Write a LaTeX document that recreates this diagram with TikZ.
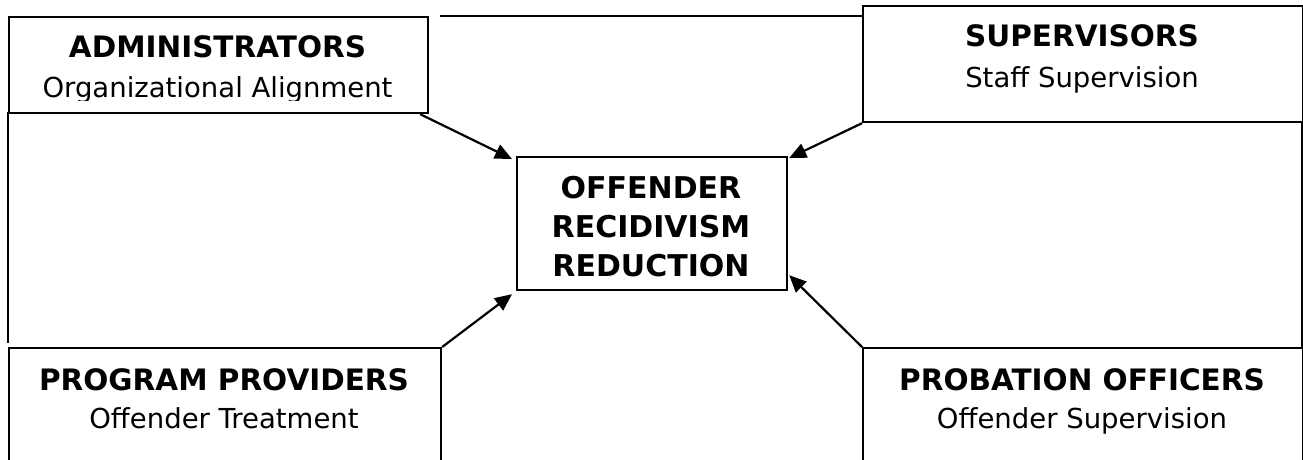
\documentclass[tikz,border=0pt]{standalone}
\usepackage{fontspec}
\setmainfont{DejaVu Sans}
\usetikzlibrary{arrows.meta}
\begin{document}
\begin{tikzpicture}[x=1pt,y=-1pt,
  box/.style={draw,fill=white,line width=2.2pt,rectangle,inner sep=0pt,anchor=north west},
  head/.style={font=\fontsize{29.5}{32}\selectfont\bfseries,anchor=base,inner sep=0pt},
  sub/.style={font=\fontsize{27.5}{30}\selectfont,anchor=base,inner sep=0pt},
  coretext/.style={font=\fontsize{30}{34}\selectfont\bfseries,anchor=base,inner sep=0pt},
  arr/.style={line width=2.2pt,-{Triangle[length=17pt,width=15pt]}},
  frameline/.style={line width=2.2pt}]
\useasboundingbox (0,0) rectangle (1303,460);
\clip (0,0) rectangle (1303,460);

% outer frame segments between the corner boxes
\draw[frameline] (440,16) -- (862,16);
\draw[frameline] (8,112) -- (8,343);
\draw[frameline] (1302,121) -- (1302,347);

% boxes
\node[box,minimum width=419pt,minimum height=96pt]  (admin) at (8,16) {};
\node[box,minimum width=440pt,minimum height=116pt] (sup)   at (862,5) {};
\node[box,minimum width=432pt,minimum height=140pt] (prog)  at (8,347) {};
\node[box,minimum width=440pt,minimum height=140pt] (prob)  at (862,347) {};
\node[box,minimum width=270pt,minimum height=133pt] (core)  at (516,156) {};

% arrows into the central box
\draw[arr] ([xshift=-9pt]admin.south east) -- ([xshift=-4pt,yshift=-3pt]core.north west);
\draw[arr] (sup.south west) -- ([xshift=1pt,yshift=-2pt]core.north east);
\draw[arr] (prog.north east) -- ([xshift=-4pt,yshift=-3pt]core.south west);
\draw[arr] (prob.north west) -- ([xshift=1pt,yshift=16pt]core.south east);

% central text
\node[coretext] (corea) at (651,198) {OFFENDER};
\node[coretext] (coreb) at (651,237) {RECIDIVISM};
\node[coretext] (corec) at (651,276) {REDUCTION};

% corner box texts
\node[head] (adminT) at (217.5,57) {ADMINISTRATORS};
\begin{scope}
  \clip (8,16) rectangle (427,100);
  \node[sub] (adminS) at (217.5,97) {Organizational Alignment};
\end{scope}
\node[head] (supT) at (1082,47) {SUPERVISORS};
\node[sub]  (supS) at (1082,87) {Staff Supervision};
\node[head] (progT) at (224,390) {PROGRAM PROVIDERS};
\node[sub]  (progS) at (224,428) {Offender Treatment};
\node[head] (probT) at (1082,390) {PROBATION OFFICERS};
\node[sub]  (probS) at (1082,428) {Offender Supervision};
\end{tikzpicture}
\end{document}
